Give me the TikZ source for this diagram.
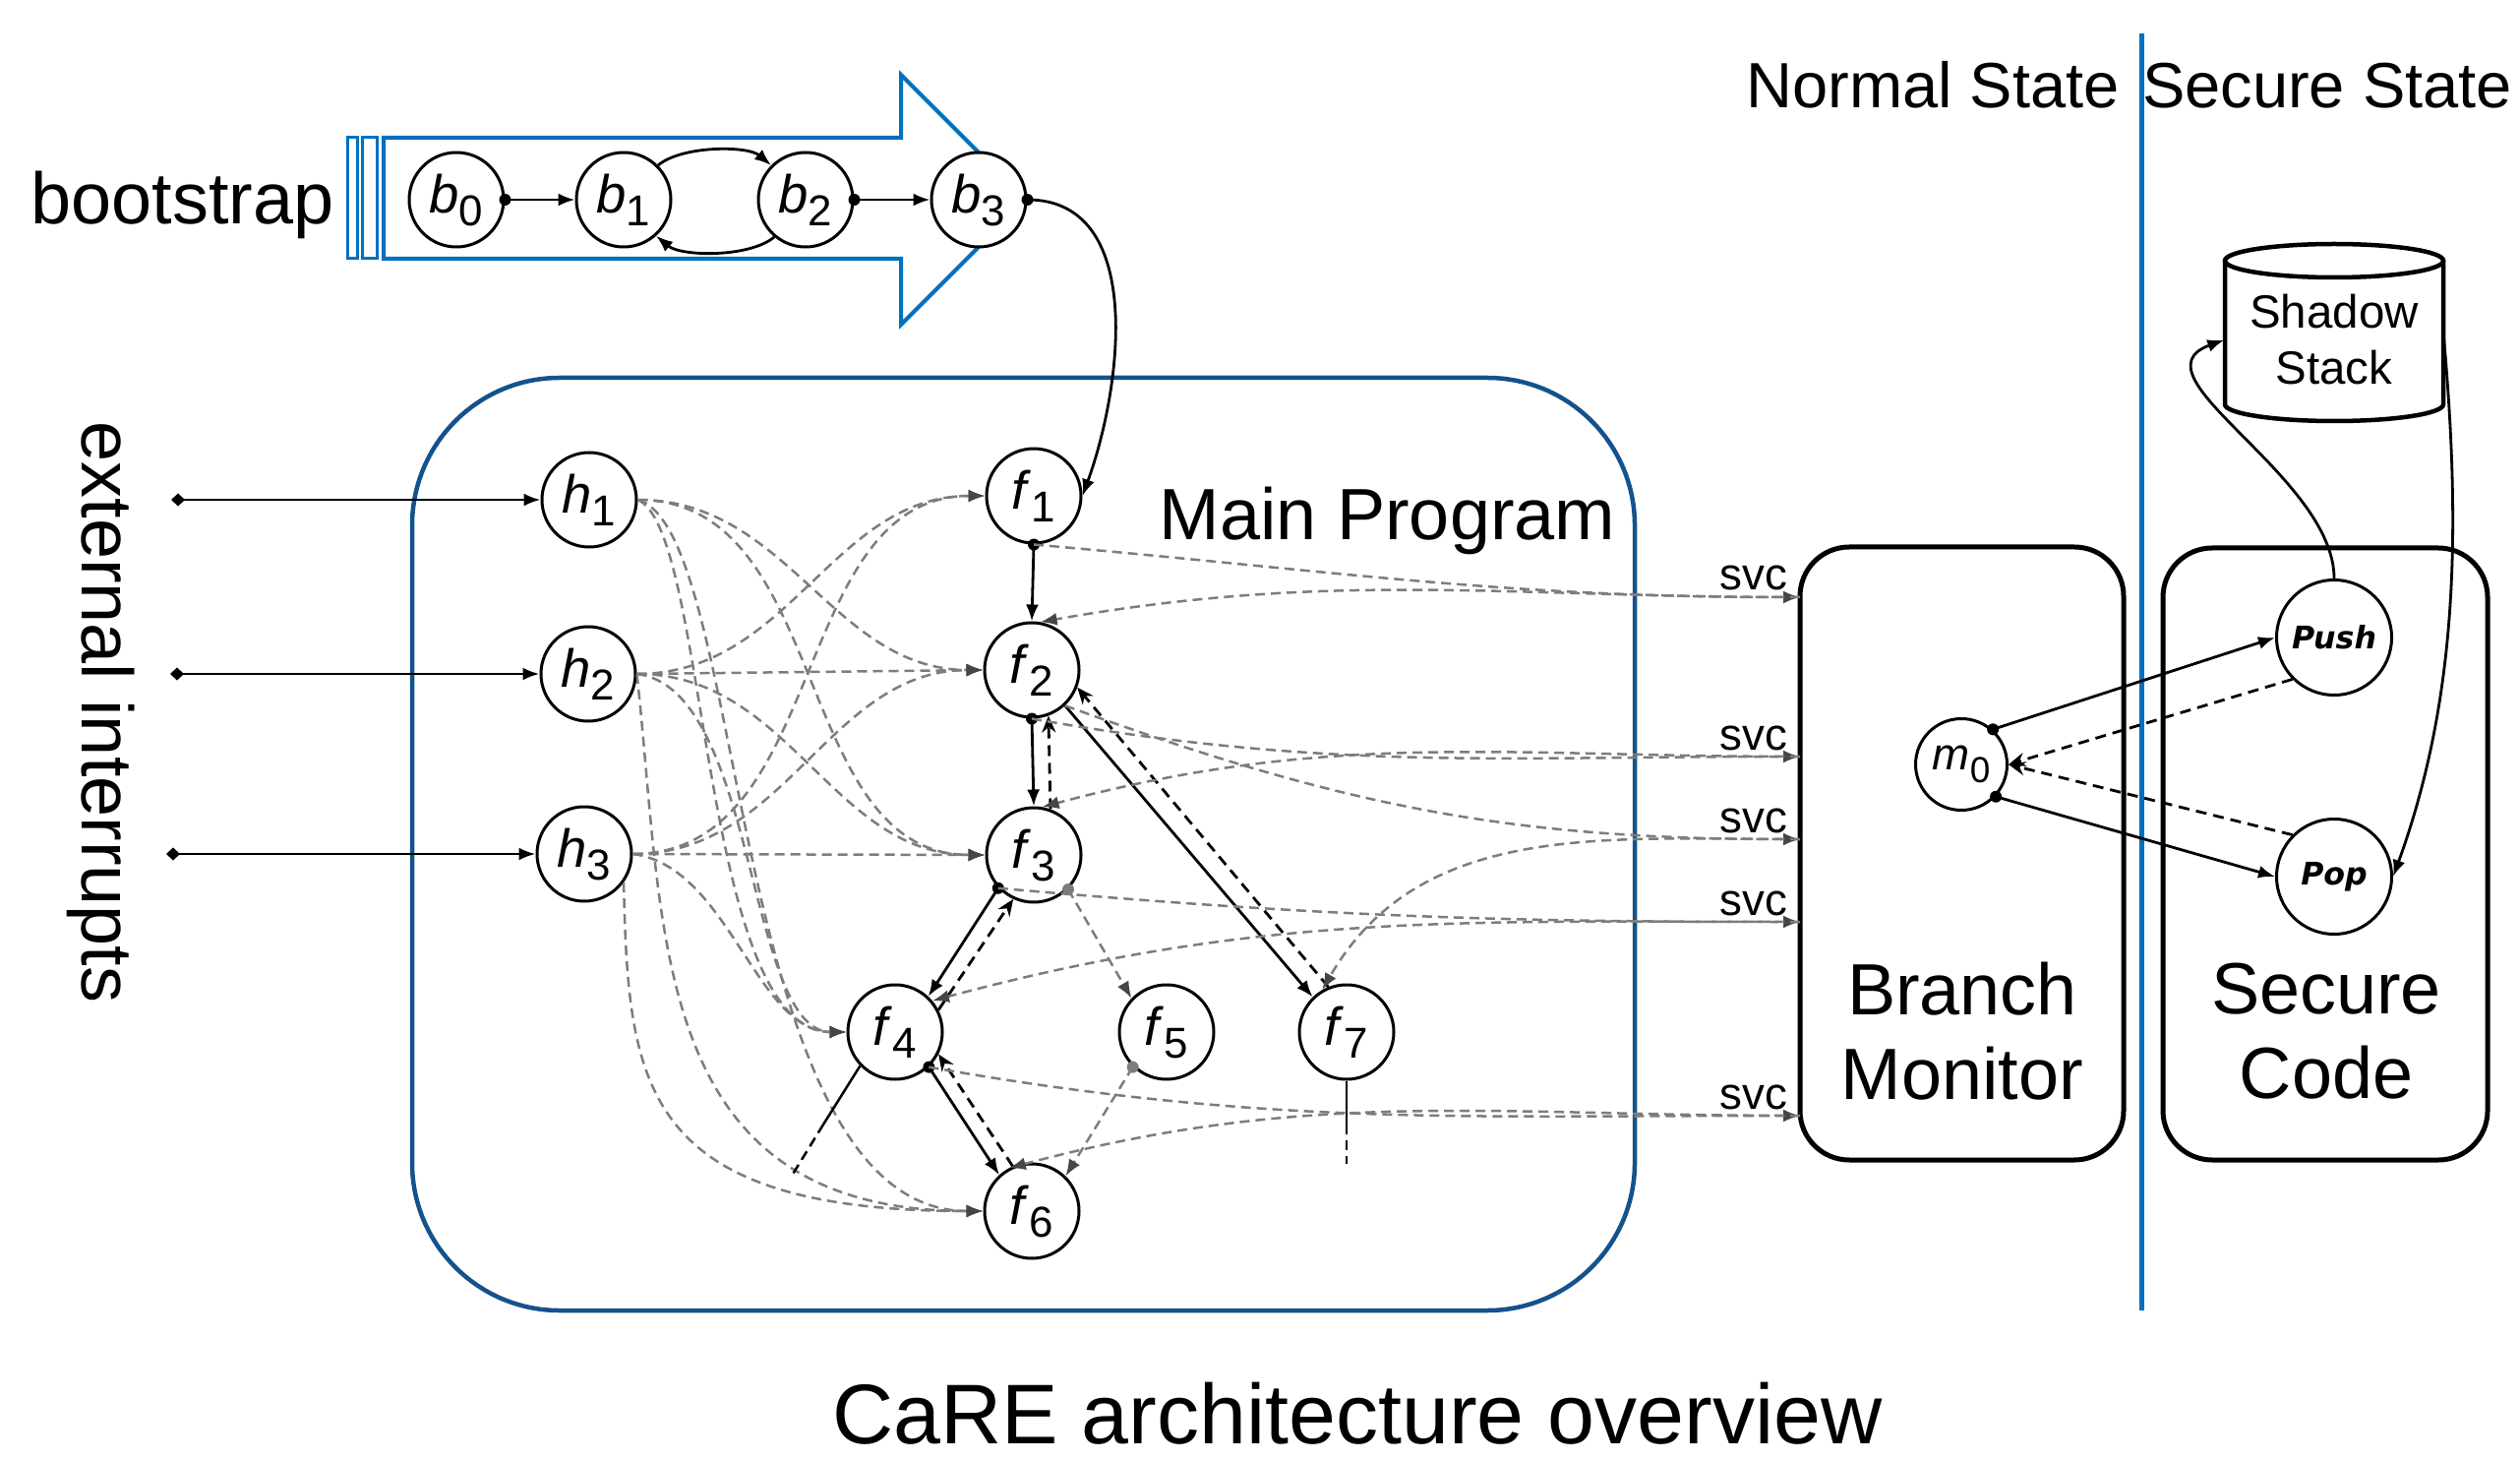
\documentclass[tikz,border=0pt]{standalone}
\usepackage{fontspec}
\setmainfont{Liberation Sans}
\newfontfamily\opfont{DejaVu Sans}
\usetikzlibrary{arrows.meta}
\definecolor{bootblue}{RGB}{0,112,192}
\definecolor{progblue}{RGB}{20,82,140}
\definecolor{callgray}{RGB}{125,125,125}
\definecolor{tipgray}{RGB}{70,70,70}
\newcommand{\vn}[3][12.5]{\textit{#2}\raisebox{-1.3mm}{\fontsize{#1}{#1}\selectfont #3}}
\tikzset{
  fnode/.style={circle, draw, line width=0.3mm, fill=white, minimum size=9.6mm, inner sep=0pt, font=\fontsize{15.5}{15.5}\selectfont},
  big/.style={inner sep=0pt, font=\fontsize{21}{24.5}\selectfont},
  call/.style={line width=0.28mm, -{Latex[length=1.7mm,width=1.3mm]}},
  ret/.style={line width=0.28mm, dash pattern=on 1.1mm off 0.7mm, -{Stealth[length=1.7mm,width=1.4mm]}},
  gcall/.style={draw=callgray, line width=0.25mm, dash pattern=on 1mm off 0.6mm, -{Latex[length=1.7mm,width=1.3mm,color=tipgray]}},
  irq/.style={line width=0.28mm, {Diamond[length=1.4mm,width=1.3mm]}-{Latex[length=1.7mm,width=1.3mm]}},
  box/.style={draw, line width=0.5mm, rounded corners=5mm, inner sep=0pt}
}
\begin{document}
\begin{tikzpicture}[x=1mm,y=1mm]
\useasboundingbox (0,0) rectangle (256.2,-148.5);
% frames
\node[draw=progblue, line width=0.45mm, rounded corners=15mm, minimum width=124.3mm, minimum height=94.8mm, inner sep=0pt] (main) at (104.05,-85.8) {};
\node[box, minimum width=32.9mm, minimum height=62.3mm] (bm) at (199.45,-86.75) {};
\node[box, minimum width=33.0mm, minimum height=62.2mm] (sc) at (236.4,-86.8) {};
\draw[bootblue, line width=0.5mm] (217.7,-3.4) -- (217.7,-133.2);
\draw[bootblue, line width=0.4mm, fill=white] (39.0,-14.0) -- (91.6,-14.0) -- (91.6,-7.6) -- (104.3,-20.3) -- (91.6,-33.0) -- (91.6,-26.3) -- (39.0,-26.3) -- cycle;
\draw[bootblue, line width=0.3mm] (35.3,-14.0) rectangle (36.3,-26.3) (36.8,-14.0) rectangle (38.3,-26.3);
\draw[line width=0.45mm, fill=white] (226.2,-26.5) -- (226.2,-41.1) arc[start angle=180, end angle=360, x radius=11.1, y radius=1.7] -- (248.4,-26.5);
\draw[line width=0.45mm] (237.3,-26.5) ellipse [x radius=11.1, y radius=1.7];
% labels
\node[big, anchor=base] (bootlbl) at (18.55,-22.8) {bootstrap};
\node[big, rotate=-90] (extlbl) at (10.25,-72.4) {external interrupts};
\node[big, anchor=base] (mainlbl) at (141.05,-54.9) {Main Program};
\node[big, align=center] (bmlbl) at (199.5,-104.85) {Branch\\Monitor};
\node[big, align=center] (sclbl) at (236.5,-104.85) {Secure\\Code};
\node[inner sep=0pt, anchor=base, font=\fontsize{18.5}{18.5}\selectfont] (nslbl) at (196.5,-11.0) {Normal State};
\node[inner sep=0pt, anchor=base, font=\fontsize{18.5}{18.5}\selectfont] (sslbl) at (236.6,-11.0) {Secure State};
\node[inner sep=0pt, anchor=base, font=\fontsize{24.5}{24.5}\selectfont] (title) at (138.0,-146.7) {CaRE architecture overview};
\node[inner sep=0pt, minimum width=22.2mm, minimum height=14.6mm, align=center, font=\fontsize{13.5}{16.2}\selectfont] (stack) at (237.3,-34.55) {Shadow\\Stack};
% nodes
\node[fnode] (b0) at (46.4,-20.3) {\vn{b}{0}};
\node[fnode] (b1) at (63.4,-20.3) {\vn{b}{1}};
\node[fnode] (b2) at (81.9,-20.3) {\vn{b}{2}};
\node[fnode] (b3) at (99.5,-20.3) {\vn{b}{3}};
\node[fnode] (h1) at (59.9,-50.8) {\vn{h}{1}};
\node[fnode] (h2) at (59.8,-68.5) {\vn{h}{2}};
\node[fnode] (h3) at (59.4,-86.8) {\vn{h}{3}};
\node[fnode] (f1) at (105.1,-50.4) {\vn{f}{1}};
\node[fnode] (f2) at (104.9,-68.1) {\vn{f}{2}};
\node[fnode] (f3) at (105.1,-86.9) {\vn{f}{3}};
\node[fnode] (f4) at (91.0,-104.9) {\vn{f}{4}};
\node[fnode] (f5) at (118.6,-104.9) {\vn{f}{5}};
\node[fnode] (f7) at (136.9,-104.9) {\vn{f}{7}};
\node[fnode] (f6) at (104.9,-123.1) {\vn{f}{6}};
\node[fnode, minimum size=9.3mm, font=\fontsize{13}{13}\selectfont] (m0) at (199.4,-77.7) {\vn[10.5]{m}{0}};
\node[fnode, minimum size=11.7mm, font=\opfont\fontsize{9}{9}\bfseries\itshape\selectfont] (push) at (237.3,-64.8) {Push};
\node[fnode, minimum size=11.7mm, font=\opfont\fontsize{9}{9}\bfseries\itshape\selectfont] (pop) at (237.3,-89.1) {Pop};
\coordinate (irq1) at (17.4,-50.8);
\coordinate (irq2) at (17.3,-68.5);
\coordinate (irq3) at (16.9,-86.8);
\coordinate (s1) at (183.0,-60.7);
\coordinate (s2) at (183.0,-76.9);
\coordinate (s3) at (183.0,-85.3);
\coordinate (s4) at (183.0,-93.7);
\coordinate (s5) at (183.0,-113.4);
\coordinate (f4a) at (83.7,-114.3);
\coordinate (f4b) at (80.5,-119.5);
\coordinate (f7a) at (136.9,-114.3);
\coordinate (f7b) at (136.9,-118.3);
% bootstrap chain
\fill (b0.east) circle (0.6);
\draw[call] (b0.east) -- (b1.west);
\draw[call] (b1.45) to[out=40,in=140,looseness=0.7] (b2.135);
\draw[call] (b2.-130) to[out=-140,in=-40,looseness=0.7] (b1.-48);
\fill (b2.east) circle (0.6);
\draw[call] (b2.east) -- (b3.west);
\fill (b3.east) circle (0.6);
\draw[call] (b3.east) to[out=0,in=70] (f1.east);
% interrupts
\draw[irq] (irq1) -- (h1);
\draw[irq] (irq2) -- (h2);
\draw[irq] (irq3) -- (h3);
\draw[gcall] (h1.east) to[out=0,in=180] (f2.west);
\draw[gcall] (h1.east) to[out=0,in=180] (f3.west);
\draw[gcall] (h1.east) .. controls +(7.3,-3.2) and +(-15,0) .. (f4.west);
\draw[gcall] (h1.east) .. controls +(11.3,-3.2) and +(-26.1,0) .. (f6.west);
\draw[gcall] (h2.east) -- (f2.west);
\draw[gcall] (h2.east) to[out=0,in=180] (f1.west);
\draw[gcall] (h2.east) to[out=0,in=180] (f3.west);
\draw[gcall] (h2.east) .. controls +(12.3,-1.5) and +(-10.2,0) .. (f4.west);
\draw[gcall] (h2.east) .. controls +(2.9,-26.5) and +(-34.1,0) .. (f6.west);
\draw[gcall] (h3.east) -- (f3.west);
\draw[gcall] (h3.east) to[out=0,in=180] (f1.west);
\draw[gcall] (h3.east) to[out=0,in=180] (f2.west);
\draw[gcall] (h3.east) .. controls +(9.8,-1.3) and +(-9.2,0) .. (f4.west);
\draw[gcall] (h3.-36) .. controls +(0.5,-20.4) and +(-35.1,0) .. (f6.west);
% calls inside main
\fill (f1.south) circle (0.6);
\draw[call] (f1.south) -- (f2.north);
\fill (f2.south) circle (0.6);
\draw[call] (f2.south) -- (f3.north);
\draw[ret] (f3.70) -- (f2.-70);
\draw[call] (f2.-47) -- (f7.134);
\draw[ret] (f7.112) -- (f2.-21);
\fill (f3.-137) circle (0.6);
\draw[call] (f3.-137) -- (f4.47);
\draw[ret] (f4.27) -- (f3.-115);
\fill (f4.-46) circle (0.6);
\draw[call] (f4.-46) -- (f6.132);
\draw[ret] (f6.113) -- (f4.-27);
\draw[line width=0.25mm] (f4.-136) -- (f4a);
\draw[line width=0.25mm, dash pattern=on 1mm off 0.6mm] (f4a) -- (f4b);
\draw[line width=0.25mm] (f7.south) -- (f7a);
\draw[line width=0.25mm, dash pattern=on 1mm off 0.6mm] (f7a) -- (f7b);
\fill[callgray] (f3.-45) circle (0.6);
\draw[gcall] (f3.-45) -- (f5.136);
\fill[callgray] (f5.-134) circle (0.6);
\draw[gcall] (f5.-134) -- (f6.46);
% svc
\draw[gcall] (f1.south) to[out=-5,in=180] (s1);
\draw[gcall] (s1) to[out=180,in=10] (f2.80);
\draw[gcall] (f2.south) to[out=-10,in=180] (s2);
\draw[gcall] (s2) to[out=180,in=15] (f3.80);
\draw[gcall] (f2.-47) to[out=-20,in=180] (s3);
\draw[gcall] (s3) to[out=180,in=60] (f7.120);
\draw[gcall] (f3.-137) to[out=-5,in=180] (s4);
\draw[gcall] (s4) to[out=180,in=15] (f4.40);
\draw[gcall] (f4.-46) to[out=-10,in=180] (s5);
\draw[gcall] (s5) to[out=180,in=15] (f6.118);
\foreach \s in {1,...,5}
  \node[inner sep=0pt, anchor=base east, font=\fontsize{13}{13}\selectfont] (svc\s) at ([xshift=-1.2mm,yshift=0.7mm]s\s) {svc};
% monitor
\fill (m0.48) circle (0.6);
\draw[call] (m0.48) -- (push.west);
\draw[ret] (push.-135) -- (m0.east);
\fill (m0.-43) circle (0.6);
\draw[call] (m0.-43) -- (pop.west);
\draw[ret] (pop.135) -- (m0.east);
\draw[call] (push.north) to[out=90,in=200] (stack.west);
\draw[call] (stack.east) to[out=-85,in=70,looseness=0.9] (pop.east);
\end{tikzpicture}
\end{document}
